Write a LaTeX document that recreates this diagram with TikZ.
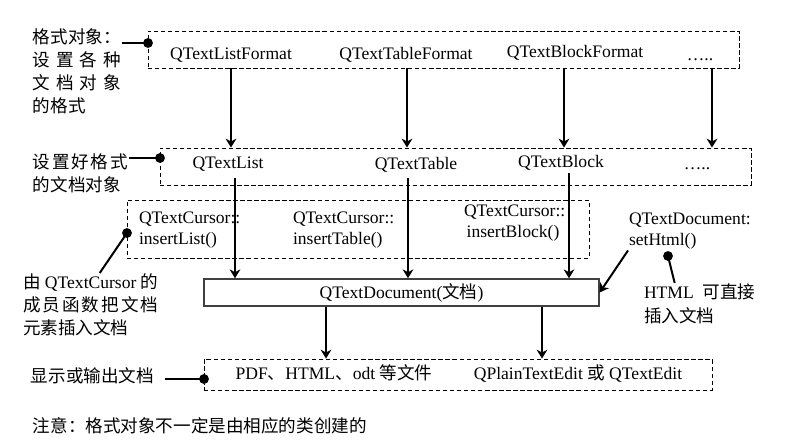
\documentclass[tikz,border=0pt]{standalone}
\usepackage{fontspec}
\setmainfont{Liberation Serif}
\newfontfamily\cjk{Noto Sans CJK SC}
\usetikzlibrary{arrows.meta,fit}

\newcommand{\spr}[2]{\makebox[#1][s]{#2}}

\begin{document}
\begin{tikzpicture}[x=0.02cm,y=-0.02cm,line width=0.4mm,
    dbox/.style={draw,line width=0.5pt,dash pattern=on 2.5pt off 1.5pt,inner sep=0pt},
    docbox/.style={draw=black!75,line width=0.8pt,inner sep=0pt,minimum width=7.9cm,minimum height=0.54cm},
    arr/.style={-{Stealth[length=5pt,width=6pt,inset=1.5pt]}},
    word/.style={inner sep=0pt,anchor=base},
    lbl/.style={inner sep=0pt,anchor=north west,align=left,font=\fontsize{10}{13}\selectfont},
    code/.style={inner sep=0pt,anchor=north west,align=left,font=\fontsize{10}{12}\selectfont},
    ]
    \useasboundingbox (0,0) rectangle (803,445);
    % boxes
    \node [dbox,fit={(148,31) (739,68)}] (fmt) {};
    \node [dbox,fit={(160,148) (751,185)}] (obj) {};
    \node [dbox,fit={(127,200) (589,258)}] (ins) {};
    \node [docbox] (doc) at (401.5,292.5) {QTextDocument({\cjk 文档})};
    \node [dbox,fit={(204,359) (712,390)}] (out) {};
    % format classes
    \node [word] (lf) at (231,60) {QTextListFormat};
    \node [word] (tf) at (406,60) {QTextTableFormat};
    \node [word] (bf) at (575,58) {QTextBlockFormat};
    \node [word] (mf) at (700,61) {…..};
    % document objects
    \node [word] (ol) at (228,169) {QTextList};
    \node [word] (ot) at (416,170) {QTextTable};
    \node [word] (ob) at (561,168) {QTextBlock};
    \node [word] (om) at (697,170) {…..};
    % insert functions
    \node [code] (il) at (138,211) {QTextCursor::\\insertList()};
    \node [code] (it) at (292,211) {QTextCursor::\\insertTable()};
    \node [code] (ib) at (463,204) {QTextCursor::\\\hspace{1.5pt}insertBlock()};
    % outputs
    \node [word] (pd) at (334,379) {PDF{\cjk 、}HTML{\cjk 、}odt {\cjk 等文件}};
    \node [word] (pe) at (578,379) {QPlainTextEdit {\cjk 或} QTextEdit};
    % side notes
    \node [lbl] (lbfmt) at (32,28) {{\cjk 格式对象：}\\
        \spr{5em}{\cjk 设\hfill 置\hfill 各\hfill 种}\\
        \spr{5em}{\cjk 文\hfill 档\hfill 对\hfill 象}\\
        {\cjk 的格式}};
    \node [lbl] (lbobj) at (32,153) {\spr{5.4em}{\cjk 设\hfill 置\hfill 好\hfill 格\hfill 式}\\
        {\cjk 的文档对象}};
    \node [lbl] (lbins) at (22,273) {{\cjk 由} QTextCursor {\cjk 的}\\
        \spr{7.7em}{\cjk 成\hfill 员\hfill 函\hfill 数\hfill 把\hfill 文\hfill 档}\\
        {\cjk 元素插入文档}};
    \node [lbl] (lbout) at (30,367) {\cjk 显示或输出文档};
    \node [code] (sh) at (628,212) {QTextDocument:\\setHtml()};
    \node [lbl,font=\fontsize{10}{13.7}\selectfont] (lbhtml) at (643,283) {HTML\ \ {\cjk 可直接}\\{\cjk 插入文档}};
    \node [lbl] (note) at (32,417) {\cjk 注意：格式对象不一定是由相应的类创建的};
    % arrow columns
    \coordinate (c1) at (231,0);
    \coordinate (c2) at (407,0);
    \coordinate (c3) at (564,0);
    \coordinate (c4) at (712,0);
    \coordinate (e1) at (235,178);
    \coordinate (e2) at (408,178);
    \coordinate (e3) at (569,173);
    \coordinate (f1) at (326,0);
    \coordinate (f2) at (542,0);
    \draw [arr] (fmt.south -| c1) -- (obj.north -| c1);
    \draw [arr] (fmt.south -| c2) -- (obj.north -| c2);
    \draw [arr] (fmt.south -| c3) -- (obj.north -| c3);
    \draw [arr] (fmt.south -| c4) -- (obj.north -| c4);
    \draw [arr] (e1) -- (e1 |- doc.north);
    \draw [arr] (e2) -- (e2 |- doc.north);
    \draw [arr] (e3) -- (e3 |- doc.north);
    \draw [arr] (doc.south -| f1) -- (out.north -| f1);
    \draw [arr] (doc.south -| f2) -- (out.north -| f2);
    \draw [arr] (sh.south west) -- (doc.east);
    % pins of the side notes
    \coordinate (d1) at (148,43);
    \coordinate (d2) at (160,158);
    \coordinate (d3) at (127,233);
    \coordinate (d4) at (204,379);
    \coordinate (d5) at (668,256);
    \coordinate (o4) at (165,379);
    \draw (lbfmt.east |- d1) -- (d1);
    \draw (lbobj.east |- d2) -- (d2);
    \draw ([xshift=0.18cm]lbins.north) -- (d3);
    \draw (o4) -- (d4);
    \draw (d5) -- ([xshift=-0.5cm]lbhtml.north);
    \foreach \d in {d1,d2,d3,d4,d5}
        \fill (\d) circle (2.8pt);
\end{tikzpicture}
\end{document}
